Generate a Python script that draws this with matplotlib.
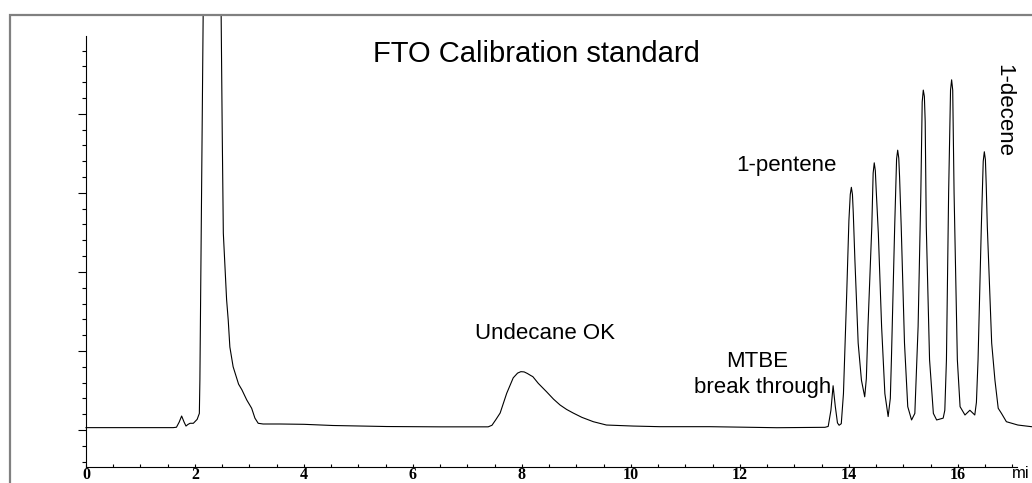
import matplotlib
matplotlib.use("Agg")
import matplotlib.pyplot as plt
from matplotlib.patches import Rectangle
from matplotlib.ticker import MultipleLocator, FixedLocator

# Chromatogram trace: retention time (min) and detector signal (arbitrary units)
time_min = [
    0.00, 1.60, 1.66, 1.71, 1.755, 1.80, 1.835, 1.87, 1.91, 1.97, 2.04, 2.08,
    2.09, 2.12, 2.15, 2.48, 2.50, 2.52, 2.55, 2.58, 2.61, 2.64, 2.70, 2.80,
    2.86, 2.95, 3.04, 3.10, 3.16, 3.25, 3.56, 4.00, 4.53, 5.52, 6.50, 7.38,
    7.45, 7.52, 7.60, 7.72, 7.84, 7.92, 7.98, 8.04, 8.10, 8.16, 8.20, 8.30,
    8.45, 8.58, 8.70, 8.82, 8.94, 9.10, 9.31, 9.55, 10.04, 10.53, 11.45, 12.68,
    13.56, 13.62, 13.67, 13.71, 13.75, 13.79, 13.82, 13.86, 13.90, 13.96, 14.00, 14.025,
    14.045, 14.065, 14.08, 14.11, 14.17, 14.23, 14.29, 14.32, 14.35, 14.42, 14.445, 14.465,
    14.485, 14.50, 14.54, 14.60, 14.66, 14.72, 14.76, 14.78, 14.84, 14.875, 14.895, 14.915,
    14.93, 14.96, 15.02, 15.08, 15.15, 15.21, 15.27, 15.32, 15.345, 15.365, 15.385, 15.40,
    15.42, 15.48, 15.55, 15.61, 15.73, 15.76, 15.79, 15.83, 15.865, 15.885, 15.905, 15.93,
    15.99, 16.04, 16.13, 16.22, 16.31, 16.34, 16.37, 16.43, 16.465, 16.485, 16.505, 16.52,
    16.54, 16.62, 16.68, 16.74, 16.80, 16.89, 17.10, 17.35,
]
signal = [
    0.30, 0.30, 0.35, 1.0, 1.77, 1.0, 0.5, 0.7, 0.85, 0.85, 1.35, 2.1,
    6.3, 30.0, 52.5, 52.5, 37.6, 24.9, 20.7, 16.5, 13.9, 10.5, 8.0, 5.8,
    5.1, 3.8, 2.75, 1.5, 0.85, 0.76, 0.76, 0.72, 0.57, 0.44, 0.40, 0.40,
    0.6, 1.3, 2.15, 4.64, 6.6, 7.2, 7.38, 7.35, 7.15, 6.9, 6.75, 5.9,
    4.85, 3.9, 3.16, 2.6, 2.15, 1.6, 1.05, 0.63, 0.50, 0.42, 0.42, 0.29,
    0.34, 0.45, 2.5, 5.6, 3.0, 0.9, 0.6, 0.8, 4.6, 17.3, 26.5, 29.8,
    30.7, 29.8, 27.5, 21.5, 11.0, 6.3, 4.2, 6.5, 13.1, 25.7, 32.5, 33.8,
    32.8, 30.5, 24.9, 13.1, 4.6, 1.7, 4.0, 8.9, 25.7, 34.3, 35.4, 34.4,
    32.0, 25.7, 11.0, 2.95, 1.27, 2.1, 13.1, 30.0, 41.5, 43.0, 42.2, 39.0,
    25.7, 8.9, 2.1, 1.27, 1.5, 2.5, 8.9, 30.0, 43.0, 44.3, 43.0, 30.0,
    8.9, 2.95, 1.9, 2.5, 1.9, 3.5, 8.9, 25.7, 34.0, 35.2, 34.2, 31.0,
    25.7, 11.0, 6.3, 2.75, 2.1, 1.05, 0.63, 0.42,
]

x_ticks = [0, 2, 4, 6, 8, 10, 12, 14, 16]
x_tick_labels = ["0", "2", "4", "6", "8", "10", "12", "14", "16"]
y_major = [0, 10, 20, 30, 40]
y_minor = [-4, -2, 2, 4, 6, 8, 12, 14, 16, 18, 22, 24, 26, 28,
           32, 34, 36, 38, 42, 44, 46, 48]

W, H = 1032, 483
fig = plt.figure(figsize=(W / 100, H / 100), dpi=100)
fig.patch.set_facecolor("white")

# grey outer frame (runs off the right and bottom edges)
frame = Rectangle((10 / W, -0.05), 1.2, (H - 15) / H + 0.05,
                  transform=fig.transFigure, fill=False,
                  edgecolor="#808080", linewidth=1.6, zorder=0)
fig.patches.append(frame)

ax = fig.add_axes([86 / W, 16 / H, (W - 86) / W, (467 - 15) / H])
ax.set_facecolor("none")
ax.plot(time_min, signal, color="black", linewidth=0.8, clip_on=False)

ax.set_xlim(0, 17.36)
ax.set_ylim(-4.68, 52.5)

for side in ["top", "right"]:
    ax.spines[side].set_visible(False)
ax.spines["left"].set_bounds(-4.68, 49.9)
ax.spines["bottom"].set_bounds(0, 17.08)
ax.spines["left"].set_linewidth(0.8)
ax.spines["bottom"].set_linewidth(0.8)

ax.yaxis.set_major_locator(FixedLocator(y_major))
ax.yaxis.set_minor_locator(FixedLocator(y_minor))
ax.tick_params(axis="y", which="major", direction="out", length=6, width=0.8, labelleft=False)
ax.tick_params(axis="y", which="minor", direction="out", length=3, width=0.8)

ax.set_xticks(x_ticks)
ax.set_xticklabels(x_tick_labels, fontfamily="Liberation Serif", fontweight="bold", fontsize=11.5)
ax.xaxis.set_minor_locator(MultipleLocator(0.5))
ax.tick_params(axis="x", which="both", direction="in", length=2.5, width=0.8, pad=0)

fig.text(1012 / W, (H - 466) / H, "mi", fontfamily="Liberation Sans", fontsize=12,
         ha="left", va="top")

lab = dict(fontfamily="Liberation Sans", color="black")
ax.text(8.26, 46.6, "FTO Calibration standard", fontsize=21, ha="center", va="baseline", **lab)
ax.text(8.42, 11.5, "Undecane OK", fontsize=16, ha="center", va="baseline", **lab)
ax.text(12.31, 8.0, "MTBE", fontsize=16, ha="center", va="baseline", **lab)
ax.text(12.41, 4.65, "break through", fontsize=16, ha="center", va="baseline", **lab)
ax.text(12.86, 32.8, "1-pentene", fontsize=16, ha="center", va="baseline", **lab)
ax.text(16.65, 46.3, "1-decene", fontsize=16, rotation=270, ha="left", va="top", **lab)

fig.savefig("out.png", dpi=100, facecolor="white")
